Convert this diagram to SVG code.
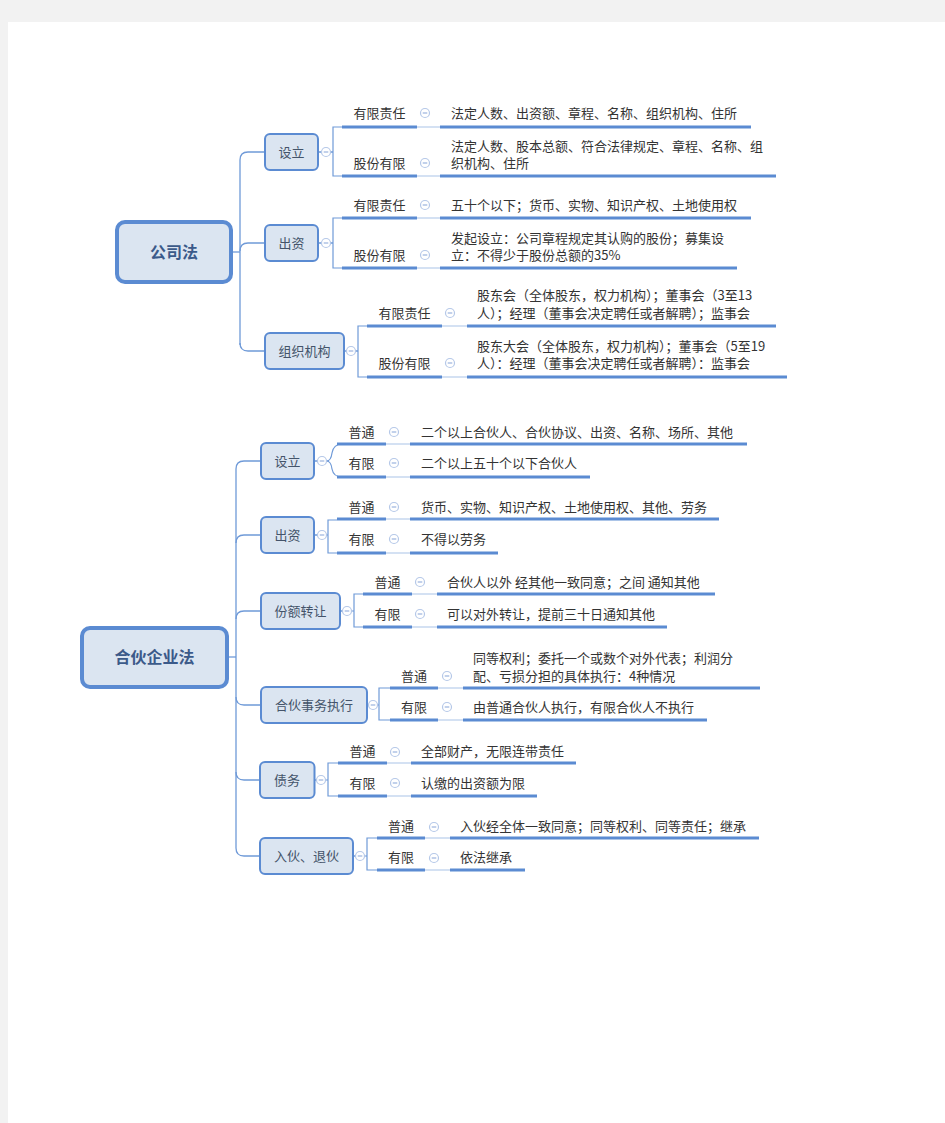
<svg xmlns="http://www.w3.org/2000/svg" xmlns:xlink="http://www.w3.org/1999/xlink" width="945" height="1123" viewBox="0 0 945 1123">
<style>
.box{fill:#dbe5f1;stroke:#5b8bd2;stroke-width:2}
.root{fill:#dbe5f1;stroke:#5b8bd2;stroke-width:4}
text{font-family:"Noto Sans CJK SC","Noto Sans",sans-serif}
.bt{font-size:13px;fill:#44546a;text-anchor:middle}
.rt{font-size:16px;font-weight:bold;fill:#3b5a8a;text-anchor:middle}
.lt{font-size:13px;fill:#333333;text-anchor:middle}
.dt{font-size:13px;fill:#333333}
.ul{stroke:#5b8bd2;stroke-width:3;fill:none}
.thin{stroke:#aac3e8;stroke-width:1.2;fill:none}
.tr{stroke:#6f9ad8;stroke-width:1.3;fill:none}
.br{stroke:#6f9ad8;stroke-width:1.2;fill:none}
.icc{fill:#ffffff;stroke:#b5c8e8;stroke-width:1.2}
.icm{stroke:#9ab3de;stroke-width:1.2}
</style>
<defs>
<g id="ic"><circle class="icc" cx="0" cy="0" r="4.5"/><line class="icm" x1="-2.3" y1="0" x2="2.3" y2="0"/></g>
</defs>
<rect x="0" y="0" width="945" height="1123" fill="#f2f2f2"/>
<rect x="8" y="22" width="937" height="1101" fill="#ffffff"/>

<g id="connectors">
<!-- 公司法 trunk -->
<path class="tr" d="M231,252 H240"/>
<path class="tr" d="M240,345 V160 Q240,152 248,152 H265"/>
<path class="tr" d="M240,251 Q240,243 248,243 H265"/>
<path class="tr" d="M240,343 Q240,351 248,351 H265"/>
<!-- box to icon -->
<path class="tr" d="M318,152 H321.5 M330.5,152 H333"/>
<path class="tr" d="M318,243 H321.5 M330.5,243 H333"/>
<path class="tr" d="M344,351 H346.5 M355.5,351 H358"/>
<!-- brackets -->
<path class="br" d="M342,127 H333 V176 H342"/>
<path class="br" d="M342,218 H333 V268 H342"/>
<path class="br" d="M367,326 H358 V377 H367"/>
<!-- label to detail -->
<path class="thin" d="M417,127 H440 M417,176 H440 M417,218 H440 M417,268 H440 M442,326 H467 M442,377 H467"/>

<!-- 合伙企业法 trunk -->
<path class="tr" d="M227,657 H236"/>
<path class="tr" d="M236,848 V469 Q236,461 244,461 H261"/>
<path class="tr" d="M236,543 Q236,535 244,535 H261"/>
<path class="tr" d="M236,619 Q236,611 244,611 H261"/>
<path class="tr" d="M236,697 Q236,705 244,705 H261"/>
<path class="tr" d="M236,772 Q236,780 244,780 H260"/>
<path class="tr" d="M236,848 Q236,856 244,856 H260"/>
<!-- box to icon -->
<path class="tr" d="M314,461 H317.5 M314,535 H317.5 M340,611 H342.5 M367,705 H368.5 M314.5,780 H316.5 M353,856 H355.5"/>
<!-- brackets -->
<path class="br" d="M326.5,461 Q331,461 332,453 Q333.5,444 342,444 H337"/>
<path class="br" d="M326.5,461 Q331,461 332,469 Q333.5,477 342,477 H337"/>
<path class="br" d="M326.5,535 H328 M337,520 H328 V553 H337"/>
<path class="br" d="M351.5,611 H354 M363,594 H354 V627 H363"/>
<path class="br" d="M377.5,705 H379 M390,688 H379 V720 H390"/>
<path class="br" d="M325.5,780 H328 M338,763 H328 V796 H338"/>
<path class="br" d="M364.5,856 H367 M377,838 H367 V870 H377"/>
<!-- label to detail -->
<path class="thin" d="M386,444 H410 M386,477 H410 M386,519 H410 M386,553 H410 M412,594 H437 M412,627 H437 M438,688 H463 M438,720 H463 M387,763 H411 M387,796 H411 M425,838 H450 M425,870 H450"/>
</g>

<!-- ===== 公司法 ===== -->
<g id="n-gsf">
<rect class="root" x="117" y="222" width="114" height="60" rx="8"/>
<text class="rt" x="174" y="257.5">公司法</text>
</g>

<g id="n-gsf-sl">
<rect class="box" x="265" y="134" width="53" height="36" rx="5"/>
<text class="bt" x="291.5" y="156.5">设立</text>
<use xlink:href="#ic" x="326" y="152"/>
</g>
<g id="n-gsf-sl-yx">
<line class="ul" x1="342" y1="127" x2="417" y2="127"/>
<text class="lt" x="379.5" y="117.5">有限责任</text>
<use xlink:href="#ic" x="425" y="113"/>
</g>
<g id="n-gsf-sl-yx-d">
<line class="ul" x1="440" y1="127" x2="751" y2="127"/>
<text class="dt" x="451" y="117.5">法定人数、出资额、章程、名称、组织机构、住所</text>
</g>
<g id="n-gsf-sl-gf">
<line class="ul" x1="342" y1="176" x2="417" y2="176"/>
<text class="lt" x="379.5" y="167.5">股份有限</text>
<use xlink:href="#ic" x="425" y="163"/>
</g>
<g id="n-gsf-sl-gf-d">
<line class="ul" x1="440" y1="176" x2="776" y2="176"/>
<text class="dt" x="451" y="150.5">法定人数、股本总额、符合法律规定、章程、名称、组</text>
<text class="dt" x="451" y="167.5">织机构、住所</text>
</g>

<g id="n-gsf-cz">
<rect class="box" x="265" y="225" width="53" height="36" rx="5"/>
<text class="bt" x="291.5" y="247.5">出资</text>
<use xlink:href="#ic" x="326" y="243"/>
</g>
<g id="n-gsf-cz-yx">
<line class="ul" x1="342" y1="218" x2="417" y2="218"/>
<text class="lt" x="379.5" y="209.5">有限责任</text>
<use xlink:href="#ic" x="425" y="205"/>
</g>
<g id="n-gsf-cz-yx-d">
<line class="ul" x1="440" y1="218" x2="751" y2="218"/>
<text class="dt" x="451" y="209.5">五十个以下；货币、实物、知识产权、土地使用权</text>
</g>
<g id="n-gsf-cz-gf">
<line class="ul" x1="342" y1="268" x2="417" y2="268"/>
<text class="lt" x="379.5" y="259.5">股份有限</text>
<use xlink:href="#ic" x="425" y="255"/>
</g>
<g id="n-gsf-cz-gf-d">
<line class="ul" x1="440" y1="268" x2="737" y2="268"/>
<text class="dt" x="451" y="242.5">发起设立：公司章程规定其认购的股份；募集设</text>
<text class="dt" x="451" y="259.5">立：不得少于股份总额的35%</text>
</g>

<g id="n-gsf-zz">
<rect class="box" x="265" y="333" width="79" height="36" rx="5"/>
<text class="bt" x="304.5" y="355.5">组织机构</text>
<use xlink:href="#ic" x="351" y="351"/>
</g>
<g id="n-gsf-zz-yx">
<line class="ul" x1="367" y1="326" x2="442" y2="326"/>
<text class="lt" x="404.5" y="317.5">有限责任</text>
<use xlink:href="#ic" x="450" y="313"/>
</g>
<g id="n-gsf-zz-yx-d">
<line class="ul" x1="467" y1="326" x2="776" y2="326"/>
<text class="dt" x="477" y="299.5">股东会（全体股东，权力机构）；董事会（3至13</text>
<text class="dt" x="477" y="317.5">人）；经理（董事会决定聘任或者解聘）；监事会</text>
</g>
<g id="n-gsf-zz-gf">
<line class="ul" x1="367" y1="377" x2="442" y2="377"/>
<text class="lt" x="404.5" y="367.5">股份有限</text>
<use xlink:href="#ic" x="450" y="363"/>
</g>
<g id="n-gsf-zz-gf-d">
<line class="ul" x1="467" y1="377" x2="787" y2="377"/>
<text class="dt" x="477" y="350.5">股东大会（全体股东，权力机构）；董事会（5至19</text>
<text class="dt" x="477" y="367.5">人）：经理（董事会决定聘任或者解聘）：监事会</text>
</g>

<!-- ===== 合伙企业法 ===== -->
<g id="n-hh">
<rect class="root" x="82" y="628" width="145" height="59" rx="8"/>
<text class="rt" x="154.5" y="662.5">合伙企业法</text>
</g>

<g id="n-hh-sl">
<rect class="box" x="261" y="443" width="53" height="36" rx="5"/>
<text class="bt" x="287.5" y="465.5">设立</text>
<use xlink:href="#ic" x="322" y="461"/>
</g>
<g id="n-hh-sl-pt">
<line class="ul" x1="337" y1="444" x2="386" y2="444"/>
<text class="lt" x="361.5" y="436.5">普通</text>
<use xlink:href="#ic" x="394" y="432"/>
</g>
<g id="n-hh-sl-pt-d">
<line class="ul" x1="410" y1="444" x2="747" y2="444"/>
<text class="dt" x="421" y="436.5">二个以上合伙人、合伙协议、出资、名称、场所、其他</text>
</g>
<g id="n-hh-sl-yx">
<line class="ul" x1="337" y1="477" x2="386" y2="477"/>
<text class="lt" x="361.5" y="467.5">有限</text>
<use xlink:href="#ic" x="394" y="463"/>
</g>
<g id="n-hh-sl-yx-d">
<line class="ul" x1="410" y1="477" x2="590" y2="477"/>
<text class="dt" x="421" y="467.5">二个以上五十个以下合伙人</text>
</g>

<g id="n-hh-cz">
<rect class="box" x="261" y="517" width="53" height="36" rx="5"/>
<text class="bt" x="287.5" y="539.5">出资</text>
<use xlink:href="#ic" x="322" y="535"/>
</g>
<g id="n-hh-cz-pt">
<line class="ul" x1="337" y1="519" x2="386" y2="519"/>
<text class="lt" x="361.5" y="511.5">普通</text>
<use xlink:href="#ic" x="394" y="507"/>
</g>
<g id="n-hh-cz-pt-d">
<line class="ul" x1="410" y1="519" x2="719" y2="519"/>
<text class="dt" x="421" y="511.5">货币、实物、知识产权、土地使用权、其他、劳务</text>
</g>
<g id="n-hh-cz-yx">
<line class="ul" x1="337" y1="553" x2="386" y2="553"/>
<text class="lt" x="361.5" y="543.5">有限</text>
<use xlink:href="#ic" x="394" y="539"/>
</g>
<g id="n-hh-cz-yx-d">
<line class="ul" x1="410" y1="553" x2="498" y2="553"/>
<text class="dt" x="421" y="543.5">不得以劳务</text>
</g>

<g id="n-hh-fe">
<rect class="box" x="261" y="593" width="79" height="36" rx="5"/>
<text class="bt" x="300.5" y="615.5">份额转让</text>
<use xlink:href="#ic" x="347" y="611"/>
</g>
<g id="n-hh-fe-pt">
<line class="ul" x1="363" y1="594" x2="412" y2="594"/>
<text class="lt" x="387.5" y="586.5">普通</text>
<use xlink:href="#ic" x="420" y="582"/>
</g>
<g id="n-hh-fe-pt-d">
<line class="ul" x1="437" y1="594" x2="715" y2="594"/>
<text class="dt" x="447" y="586.5">合伙人以外 经其他一致同意；之间 通知其他</text>
</g>
<g id="n-hh-fe-yx">
<line class="ul" x1="363" y1="627" x2="412" y2="627"/>
<text class="lt" x="387.5" y="618.5">有限</text>
<use xlink:href="#ic" x="420" y="614"/>
</g>
<g id="n-hh-fe-yx-d">
<line class="ul" x1="437" y1="627" x2="667" y2="627"/>
<text class="dt" x="447" y="618.5">可以对外转让，提前三十日通知其他</text>
</g>

<g id="n-hh-sw">
<rect class="box" x="261" y="687" width="106" height="36" rx="5"/>
<text class="bt" x="314" y="709.5">合伙事务执行</text>
<use xlink:href="#ic" x="373" y="705"/>
</g>
<g id="n-hh-sw-pt">
<line class="ul" x1="390" y1="688" x2="438" y2="688"/>
<text class="lt" x="414" y="680.5">普通</text>
<use xlink:href="#ic" x="447" y="676"/>
</g>
<g id="n-hh-sw-pt-d">
<line class="ul" x1="463" y1="688" x2="760" y2="688"/>
<text class="dt" x="473" y="662.5">同等权利；委托一个或数个对外代表；利润分</text>
<text class="dt" x="473" y="680.5">配、亏损分担的具体执行：4种情况</text>
</g>
<g id="n-hh-sw-yx">
<line class="ul" x1="390" y1="720" x2="438" y2="720"/>
<text class="lt" x="414" y="711.5">有限</text>
<use xlink:href="#ic" x="447" y="707"/>
</g>
<g id="n-hh-sw-yx-d">
<line class="ul" x1="463" y1="720" x2="707" y2="720"/>
<text class="dt" x="473" y="711.5">由普通合伙人执行，有限合伙人不执行</text>
</g>

<g id="n-hh-zw">
<rect class="box" x="260" y="762" width="54.5" height="36" rx="5"/>
<text class="bt" x="287" y="784.5">债务</text>
<use xlink:href="#ic" x="321" y="780"/>
</g>
<g id="n-hh-zw-pt">
<line class="ul" x1="338" y1="763" x2="387" y2="763"/>
<text class="lt" x="362.5" y="756">普通</text>
<use xlink:href="#ic" x="395" y="752"/>
</g>
<g id="n-hh-zw-pt-d">
<line class="ul" x1="411" y1="763" x2="576" y2="763"/>
<text class="dt" x="421" y="756">全部财产，无限连带责任</text>
</g>
<g id="n-hh-zw-yx">
<line class="ul" x1="338" y1="796" x2="387" y2="796"/>
<text class="lt" x="362.5" y="787.5">有限</text>
<use xlink:href="#ic" x="395" y="783"/>
</g>
<g id="n-hh-zw-yx-d">
<line class="ul" x1="411" y1="796" x2="537" y2="796"/>
<text class="dt" x="421" y="787.5">认缴的出资额为限</text>
</g>

<g id="n-hh-rh">
<rect class="box" x="260" y="838" width="93" height="36" rx="5"/>
<text class="bt" x="306.5" y="860.5">入伙、退伙</text>
<use xlink:href="#ic" x="360" y="856"/>
</g>
<g id="n-hh-rh-pt">
<line class="ul" x1="377" y1="838" x2="425" y2="838"/>
<text class="lt" x="401" y="831">普通</text>
<use xlink:href="#ic" x="434" y="827"/>
</g>
<g id="n-hh-rh-pt-d">
<line class="ul" x1="450" y1="838" x2="759" y2="838"/>
<text class="dt" x="460" y="831">入伙经全体一致同意；同等权利、同等责任；继承</text>
</g>
<g id="n-hh-rh-yx">
<line class="ul" x1="377" y1="870" x2="425" y2="870"/>
<text class="lt" x="401" y="862">有限</text>
<use xlink:href="#ic" x="434" y="858"/>
</g>
<g id="n-hh-rh-yx-d">
<line class="ul" x1="450" y1="870" x2="525" y2="870"/>
<text class="dt" x="460" y="862">依法继承</text>
</g>
</svg>
